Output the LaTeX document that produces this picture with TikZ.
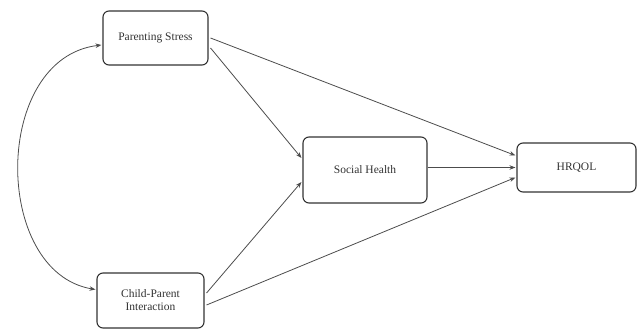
\documentclass[tikz,border=0pt]{standalone}
\usepackage{fontspec}
\setmainfont{Liberation Serif}
\usetikzlibrary{calc,arrows.meta}
\begin{document}
\begin{tikzpicture}[x=1pt,y=-1pt,
  box/.style={draw=black!80,line width=1.1pt,rounded corners=6pt,fill=white,
    text=black!80,font=\fontsize{11.5}{13}\selectfont,align=center,inner sep=0pt},
  link/.style={draw=black!70,line width=0.8pt,-{Stealth[length=6pt,width=4.5pt]}}]
\useasboundingbox (0,0) rectangle (638,331);
\node[box,minimum width=105pt,minimum height=54pt] (ps) at (155.5,38) {Parenting Stress};
\node[box,minimum width=107pt,minimum height=55pt] (cpi) at (150.5,300.5) {Child-Parent\\Interaction};
\node[box,minimum width=124pt,minimum height=66pt] (sh) at (365,170) {Social Health};
\node[box,minimum width=119pt,minimum height=49pt] (hr) at (576.5,167.5) {HRQOL};
\coordinate (psA) at ($(ps.east)+(2,0)$);
\coordinate (psB) at ($(ps.east)+(2,10)$);
\coordinate (cpiA) at ($(cpi.east)+(2,-7.5)$);
\coordinate (cpiB) at ($(cpi.east)+(2,4.5)$);
\draw[link] (psA) -- ($(hr.west)+(-1,-12)$);
\draw[link] (psB) -- ($(sh.west)+(-1,-12)$);
\draw[link] (sh.east |- hr.west) -- ($(hr.west)+(-1,0)$);
\draw[link] (cpiA) -- ($(sh.west)+(-1,12)$);
\draw[link] (cpiB) -- ($(hr.west)+(-1,10)$);
\draw[draw=black!70,line width=0.8pt,{Stealth[length=6pt,width=4.5pt]}-{Stealth[length=6pt,width=4.5pt]}]
  ($(ps.west)+(-1,7)$) .. controls (-8,58) and (-8,272) .. ($(cpi.west)+(-1,-11)$);
\end{tikzpicture}
\end{document}
